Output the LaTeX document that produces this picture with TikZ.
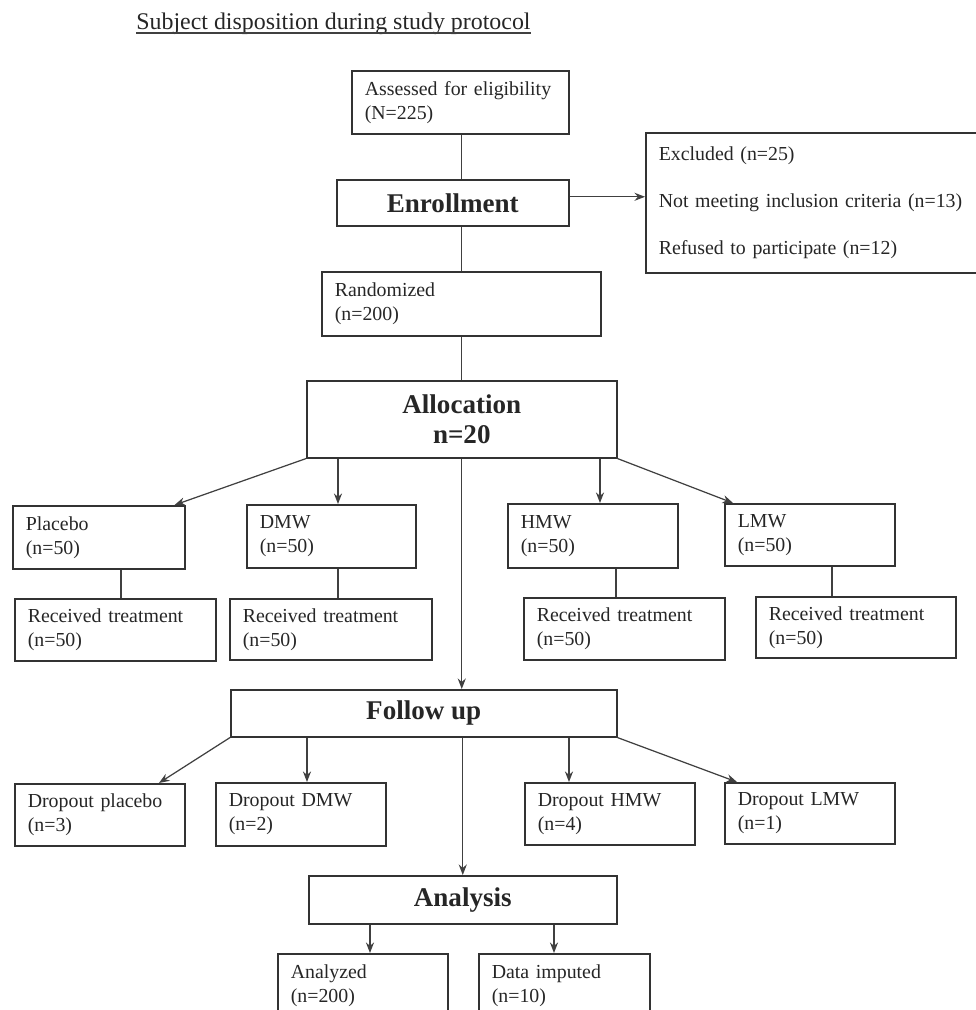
\documentclass[tikz,border=0pt]{standalone}
\usepackage{fontspec}
\setmainfont{Liberation Serif}
\usepackage{tikz}
\usetikzlibrary{arrows.meta,positioning,calc}

\begin{document}
\begin{tikzpicture}[x=0.02cm,y=-0.02cm,>={Stealth[length=6pt,width=4.6pt]},
  box/.style={draw=black!80,line width=0.9pt,anchor=north west,align=left,inner xsep=0.26cm,inner ysep=0pt,text=black!85,font=\fontsize{11.3}{13.6}\selectfont},
  head/.style={draw=black!80,line width=0.9pt,anchor=north west,align=center,inner sep=0pt,text=black!85,font=\fontsize{15.4}{17}\selectfont\bfseries},
  link/.style={draw=black!75,line width=0.7pt}]
\useasboundingbox (0,0) rectangle (976,1010);
\clip (0,0) rectangle (976,1010);
\node[anchor=base west,inner sep=0pt,text=black!85,font=\fontsize{13.6}{16}\selectfont] (title) at (136,30) {Subject disposition during study protocol};
\draw[black!75,line width=0.7pt] ([yshift=-0.06cm]title.base west) -- ([yshift=-0.06cm]title.base east);

\node[box,text width=3.82cm,minimum height=1.26cm] (elig) at (351,70) {Assessed for eligibility\\(N=225)};
\node[head,minimum width=4.64cm,minimum height=0.92cm] (enr) at (336,179) {Enrollment};
\node[box,text width=6.38cm,minimum height=2.8cm,font=\fontsize{11.3}{27}\selectfont] (excl) at (645,132) {Excluded (n=25)\\Not meeting inclusion criteria (n=13)\\Refused to participate (n=12)};
\node[box,text width=5.06cm,minimum height=1.28cm] (rand) at (321,271) {Randomized\\(n=200)};
\node[head,minimum width=6.2cm,minimum height=1.54cm] (alloc) at (306,380) {Allocation\\n=20};

\node[box,text width=2.92cm,minimum height=1.26cm] (plc) at (12,505) {Placebo\\(n=50)};
\node[box,text width=2.86cm,minimum height=1.26cm] (dmw) at (246,504) {DMW\\(n=50)};
\node[box,text width=2.88cm,minimum height=1.28cm] (hmw) at (507,503) {HMW\\(n=50)};
\node[box,text width=2.88cm,minimum height=1.24cm] (lmw) at (724,503) {LMW\\(n=50)};
\node[box,text width=3.5cm,minimum height=1.24cm] (recp) at (14,598) {Received treatment\\(n=50)};
\node[box,text width=3.52cm,minimum height=1.22cm] (recd) at (229,598) {Received treatment\\(n=50)};
\node[box,text width=3.5cm,minimum height=1.24cm] (rech) at (523,597) {Received treatment\\(n=50)};
\node[box,text width=3.48cm,minimum height=1.22cm] (recl) at (755,596) {Received treatment\\(n=50)};

\node[head,minimum width=7.72cm,minimum height=0.94cm] (fu) at (230,689) {Follow up};
\node[box,text width=2.88cm,minimum height=1.24cm] (dropp) at (14,783) {Dropout placebo\\(n=3)};
\node[box,text width=2.88cm,minimum height=1.26cm] (dropd) at (215,782) {Dropout DMW\\(n=2)};
\node[box,text width=2.88cm,minimum height=1.24cm] (droph) at (524,782) {Dropout HMW\\(n=4)};
\node[box,text width=2.88cm,minimum height=1.22cm] (dropl) at (724,782) {Dropout LMW\\(n=1)};

\node[head,minimum width=6.16cm,minimum height=0.96cm] (ana) at (308,875) {Analysis};
\node[box,text width=2.88cm,minimum height=1.26cm] (anld) at (277,953) {Analyzed\\(n=200)};
\node[box,text width=2.9cm,minimum height=1.26cm] (imp) at (478,953) {Data imputed\\(n=10)};

\draw[link] (elig.south -| alloc.north) -- (enr.north -| alloc.north);
\draw[link] (enr.south -| alloc.north) -- (rand.north -| alloc.north);
\draw[link] (rand.south -| alloc.north) -- (alloc.north);
\draw[link,->] ([yshift=0.12cm]enr.east) -- ([yshift=0.12cm]enr.east -| excl.west);

\coordinate (tp) at ([xshift=-0.22cm]plc.north east);
\draw[link,->] (alloc.south west) -- (tp);
\coordinate (td) at ([xshift=1.84cm]dmw.north west);
\draw[link,->] (alloc.south -| td) -- (td);
\coordinate (th) at ([xshift=1.86cm]hmw.north west);
\draw[link,->] (alloc.south -| th) -- (th);
\coordinate (tl) at ([xshift=0.18cm]lmw.north west);
\draw[link,->] (alloc.south east) -- (tl);
\draw[link,->] (alloc.south) -- (alloc.south |- fu.north);

\coordinate (gp) at ([xshift=2.18cm]plc.south west);
\draw[link] (gp) -- (gp |- recp.north);
\coordinate (gd) at ([xshift=1.84cm]dmw.south west);
\draw[link] (gd) -- (gd |- recd.north);
\coordinate (gh) at ([xshift=2.18cm]hmw.south west);
\draw[link] (gh) -- (gh |- rech.north);
\coordinate (gl) at ([xshift=2.16cm]lmw.south west);
\draw[link] (gl) -- (gl |- recl.north);

\coordinate (fp) at ([xshift=2.9cm]dropp.north west);
\draw[link,->] (fu.south west) -- (fp);
\coordinate (fd) at ([xshift=1.84cm]dropd.north west);
\draw[link,->] (fu.south -| fd) -- (fd);
\coordinate (fh) at ([xshift=0.9cm]droph.north west);
\draw[link,->] (fu.south -| fh) -- (fh);
\coordinate (fl) at ([xshift=0.26cm]dropl.north west);
\draw[link,->] (fu.south east) -- (fl);
\draw[link,->] (ana.north |- fu.south) -- (ana.north);

\coordinate (aa) at ([xshift=1.86cm]anld.north west);
\draw[link,->] (ana.south -| aa) -- (aa);
\coordinate (ai) at ([xshift=1.52cm]imp.north west);
\draw[link,->] (ana.south -| ai) -- (ai);
\end{tikzpicture}
\end{document}
